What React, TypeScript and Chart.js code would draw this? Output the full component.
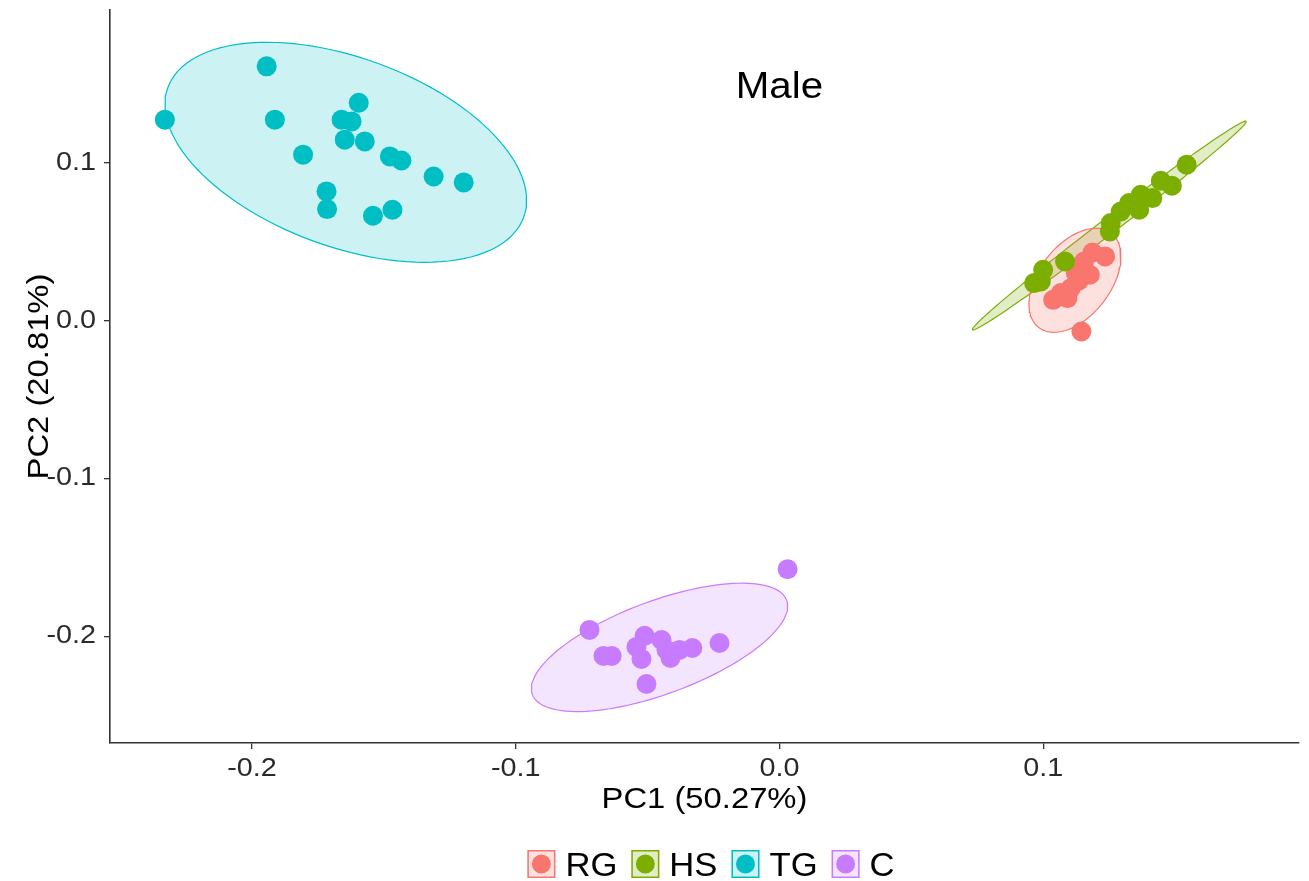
import React, { useEffect, useRef } from "react";
import { Chart, registerables } from "chart.js";

Chart.register(...registerables);

// ---------- data ----------
const groups = ["RG", "HS", "TG", "C"];
const groupColors = ["#F8766D", "#7CAE00", "#00BFC4", "#C77CFF"];
const groupFills = [
  "rgba(248,118,109,0.22)",
  "rgba(124,174,0,0.22)",
  "rgba(0,191,196,0.2)",
  "rgba(199,124,255,0.2)",
];

const rgX = [0.1187, 0.1235, 0.1155, 0.1177, 0.1136, 0.1105, 0.1067, 0.1038, 0.1092, 0.1145, 0.1124];
const rgY = [0.0433, 0.0408, 0.0376, 0.0292, 0.0256, 0.0207, 0.0176, 0.0133, 0.0144, -0.0068, 0.0302];

const hsX = [0.1544, 0.1446, 0.1488, 0.137, 0.1414, 0.1364, 0.1326, 0.1294, 0.1256, 0.1253, 0.1083, 0.1, 0.0966, 0.0991];
const hsY = [0.0989, 0.0888, 0.0856, 0.0799, 0.0778, 0.0704, 0.0746, 0.0693, 0.062, 0.0566, 0.0376, 0.0323, 0.0239, 0.0249];

const tgX = [-0.233, -0.1944, -0.1913, -0.1806, -0.1595, -0.166, -0.1622, -0.1648, -0.1572, -0.1477, -0.1433, -0.1311, -0.1197, -0.1717, -0.1715, -0.1541, -0.1467];
const tgY = [0.1275, 0.1613, 0.1275, 0.1053, 0.1382, 0.1275, 0.1264, 0.1148, 0.1137, 0.1042, 0.1016, 0.0915, 0.0877, 0.082, 0.0708, 0.0666, 0.0704];

const cX = [0.0031, -0.072, -0.0667, -0.0636, -0.0511, -0.0542, -0.0523, -0.0447, -0.0428, -0.0413, -0.0379, -0.033, -0.0227, -0.0504];
const cY = [-0.1574, -0.1959, -0.2124, -0.2124, -0.1997, -0.2067, -0.2143, -0.2023, -0.2086, -0.2137, -0.2086, -0.2074, -0.2042, -0.2302];

// ellipse: [centerX, centerY, axis1X, axis1Y, axis2X, axis2Y] in data units
const rgEllipse = [0.11205, 0.02568, 0.01372, 0.02993, 0.01076, -0.01382];
const hsEllipse = [0.1251, 0.0604, 0.05189, 0.06608, 0.0018, -0.0039];
const tgEllipse = [-0.1644, 0.1068, 0.06745, -0.0411, -0.01224, -0.05631];
const cEllipse = [-0.04545, -0.207, 0.04821, 0.02985, 0.00611, -0.02766];

const xTicks = [-0.2, -0.1, 0.0, 0.1];
const yTicks = [-0.2, -0.1, 0.0, 0.1];
const xRange = [-0.2538, 0.197];
const yRange = [-0.2676, 0.197];

const xTitle = "PC1 (50.27%)";
const yTitle = "PC2 (20.81%)";
const plotLabel = "Male";
const plotLabelPos = [0.0, 0.1414];

// ---------- helpers ----------
const FONT = '"Liberation Sans", Arial, Helvetica, sans-serif';

function pts(xs: number[], ys: number[]) {
  return xs.map((x, i) => ({ x, y: ys[i] }));
}

function ellipsePts(e: number[]) {
  const out: { x: number; y: number }[] = [];
  const n = 120;
  for (let i = 0; i <= n; i++) {
    const t = (i / n) * Math.PI * 2;
    out.push({
      x: e[0] + e[2] * Math.cos(t) + e[4] * Math.sin(t),
      y: e[1] + e[3] * Math.cos(t) + e[5] * Math.sin(t),
    });
  }
  return out;
}

function drawText(
  ctx: CanvasRenderingContext2D,
  text: string,
  x: number,
  y: number,
  size: number,
  sx: number,
  align: CanvasTextAlign,
  baseline: CanvasTextBaseline,
  color: string,
  rot = 0
) {
  ctx.save();
  ctx.translate(x, y);
  if (rot) ctx.rotate(rot);
  ctx.scale(sx, 1);
  ctx.font = `${size}px ${FONT}`;
  ctx.fillStyle = color;
  ctx.textAlign = align;
  ctx.textBaseline = baseline;
  ctx.fillText(text, 0, 0);
  ctx.restore();
}

const textPlugin = {
  id: "customTexts",
  afterDraw(chart: any) {
    const ctx: CanvasRenderingContext2D = chart.ctx;
    const xs = chart.scales.x;
    const ys = chart.scales.y;
    const area = chart.chartArea;
    const tickColor = "#2a2a2a";

    // tick labels
    xTicks.forEach((v) => {
      drawText(ctx, v.toFixed(1), xs.getPixelForValue(v), area.bottom + 26, 25, 1.15, "center", "middle", tickColor);
    });
    yTicks.forEach((v) => {
      drawText(ctx, v.toFixed(1), area.left - 14, ys.getPixelForValue(v), 25, 1.15, "right", "middle", tickColor);
    });

    // axis titles
    drawText(ctx, xTitle, (area.left + area.right) / 2, area.bottom + 57, 29, 1.13, "center", "middle", "#000");
    drawText(ctx, yTitle, 40, (area.top + area.bottom) / 2, 29, 1.13, "center", "middle", "#000", -Math.PI / 2);

    // panel label
    drawText(
      ctx,
      plotLabel,
      xs.getPixelForValue(plotLabelPos[0]),
      ys.getPixelForValue(plotLabelPos[1]),
      36,
      1.12,
      "center",
      "alphabetic",
      "#000"
    );

    // legend
    const lsize = 33;
    const lsx = 1.05;
    const key = 28;
    const gap = 10;
    const spacing = 14;
    ctx.save();
    ctx.font = `${lsize}px ${FONT}`;
    const widths = groups.map((g) => ctx.measureText(g).width * lsx);
    ctx.restore();
    const total = widths.reduce((a, w) => a + key + gap + w, 0) + spacing * (groups.length - 1);
    let lx = 711 - total / 2;
    const ly = 864;
    groups.forEach((g, i) => {
      ctx.save();
      ctx.fillStyle = groupFills[i];
      ctx.fillRect(lx, ly - key / 2, key, key);
      ctx.strokeStyle = groupColors[i];
      ctx.lineWidth = 1.5;
      ctx.strokeRect(lx + 0.75, ly - key / 2 + 0.75, key - 1.5, key - 1.5);
      ctx.beginPath();
      ctx.arc(lx + key / 2, ly, 9.5, 0, Math.PI * 2);
      ctx.fillStyle = groupColors[i];
      ctx.fill();
      ctx.restore();
      drawText(ctx, g, lx + key + gap, ly + 12, lsize, lsx, "left", "alphabetic", "#000");
      lx += key + gap + widths[i] + spacing;
    });
  },
};

const pointSets = [
  { x: rgX, y: rgY, order: 2 },
  { x: hsX, y: hsY, order: 1 },
  { x: tgX, y: tgY, order: 3 },
  { x: cX, y: cY, order: 4 },
];
const ellipses = [rgEllipse, hsEllipse, tgEllipse, cEllipse];

export default function App() {
  const ref = useRef<HTMLCanvasElement>(null);

  useEffect(() => {
    if (!ref.current) return;
    const datasets: any[] = [];
    ellipses.forEach((e, i) => {
      datasets.push({
        type: "line",
        label: groups[i] + " ellipse",
        data: ellipsePts(e),
        borderColor: groupColors[i],
        backgroundColor: groupFills[i],
        borderWidth: 1.2,
        pointRadius: 0,
        tension: 0,
        fill: "shape",
        order: 20 + i,
      });
    });
    pointSets.forEach((p, i) => {
      datasets.push({
        type: "scatter",
        label: groups[i],
        data: pts(p.x, p.y),
        backgroundColor: groupColors[i],
        borderColor: groupColors[i],
        borderWidth: 0,
        pointRadius: 10,
        pointHoverRadius: 10,
        order: p.order,
      });
    });

    const chart = new Chart(ref.current, {
      type: "scatter",
      data: { datasets },
      options: {
        responsive: false,
        animation: false,
        events: [],
        layout: { padding: { left: 0, right: 9, top: 10, bottom: 0 } },
        plugins: { legend: { display: false }, tooltip: { enabled: false } },
        scales: {
          x: {
            type: "linear",
            position: "bottom",
            min: xRange[0],
            max: xRange[1],
            afterBuildTicks: (s: any) => {
              s.ticks = xTicks.map((v) => ({ value: v }));
            },
            afterFit: (s: any) => {
              s.height = 138;
            },
            ticks: { display: false },
            grid: { drawOnChartArea: false, drawTicks: true, tickLength: 6, color: "#333", lineWidth: 1.3 },
            border: { display: true, color: "#333", width: 1.6 },
          },
          y: {
            type: "linear",
            position: "left",
            min: yRange[0],
            max: yRange[1],
            afterBuildTicks: (s: any) => {
              s.ticks = yTicks.map((v) => ({ value: v }));
            },
            afterFit: (s: any) => {
              s.width = 110;
            },
            ticks: { display: false },
            grid: { drawOnChartArea: false, drawTicks: true, tickLength: 6, color: "#333", lineWidth: 1.3 },
            border: { display: true, color: "#333", width: 1.6 },
          },
        },
      },
      plugins: [textPlugin],
    } as any);
    return () => chart.destroy();
  }, []);

  return (
    <div style={{ position: "absolute", left: 0, top: 0, width: 1309, height: 881, background: "#fff" }}>
      <canvas ref={ref} width={1309} height={881} style={{ display: "block", width: 1309, height: 881 }} />
    </div>
  );
}
